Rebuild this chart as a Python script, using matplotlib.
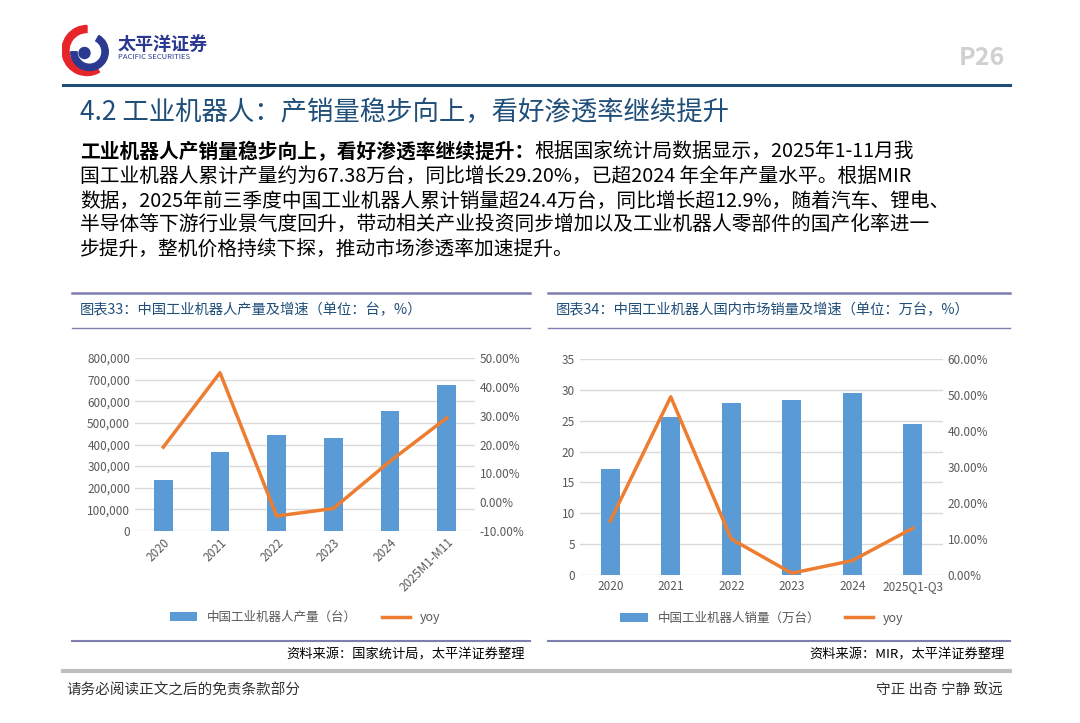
import matplotlib
matplotlib.use("Agg")
import matplotlib.pyplot as plt
from matplotlib.lines import Line2D
from matplotlib.patches import Wedge, Circle
from matplotlib.ticker import FuncFormatter, MultipleLocator

plt.rcParams['font.family'] = ['Noto Sans CJK SC', 'DejaVu Sans']

years1 = ['2020', '2021', '2022', '2023', '2024', '2025M1-M11']
prod = [237000, 366000, 443000, 430000, 556000, 674000]
yoy1 = [19.1, 44.9, -4.8, -2.2, 14.2, 29.2]

years2 = ['2020', '2021', '2022', '2023', '2024', '2025Q1-Q3']
sales = [17.1, 25.6, 27.9, 28.3, 29.5, 24.4]
yoy2 = [15.0, 49.5, 10.0, 0.5, 4.0, 13.0]

W, H = 1080, 723
fig = plt.figure(figsize=(W/100, H/100), dpi=100)

def fx(x): return x / W
def fy(y): return 1 - y / H
def hline(x0, x1, y, color, lw):
    fig.add_artist(Line2D([fx(x0), fx(x1)], [fy(y), fy(y)], color=color, lw=lw))
def txt(x, y, s, **kw):
    fig.text(fx(x), fy(y), s, **kw)

BLUE = '#5B9BD5'; ORANGE = '#ED7D31'; NAVY = '#1F4E79'; GRID = '#D9D9D9'; TICK = '#595959'

# logo
lax = fig.add_axes([fx(62), fy(88), fx(50), 75/H])
lax.set_xlim(-1, 1); lax.set_ylim(-1.3, 1.3); lax.set_aspect('equal'); lax.axis('off')
lax.add_patch(Wedge((0, 0), 1.0, 90, 300, width=0.28, color='#E8242B'))
lax.add_patch(Wedge((0.1, -0.05), 0.75, 180, 420, width=0.25, color='#2B3990'))
lax.add_patch(Circle((-0.1, -0.1), 0.22, color='#2B3990'))
txt(118, 44, '太平洋证券', fontsize=13, fontweight='bold', color='#2B3990', va='center')
txt(118, 57, 'PACIFIC SECURITIES', fontsize=5.5, color='#2B3990', va='center')
txt(1005, 58, 'P26', fontsize=18, fontweight='bold', color='#D0D0D0', ha='right', va='center')

hline(63, 1010, 85, NAVY, 2.2)
txt(80, 112, '4.2 工业机器人：产销量稳步向上，看好渗透率继续提升', fontsize=19, color=NAVY, va='center')

lines = [
    ('工业机器人产销量稳步向上，看好渗透率继续提升：', '根据国家统计局数据显示，2025年1-11月我'),
    ('', '国工业机器人累计产量约为67.38万台，同比增长29.20%，已超2024 年全年产量水平。根据MIR'),
    ('', '数据，2025年前三季度中国工业机器人累计销量超24.4万台，同比增长超12.9%，随着汽车、锂电、'),
    ('', '半导体等下游行业景气度回升，带动相关产业投资同步增加以及工业机器人零部件的国产化率进一'),
    ('', '步提升，整机价格持续下探，推动市场渗透率加速提升。'),
]
FS = 14.2
for i, (b, n) in enumerate(lines):
    y = 152 + i * 24.5
    if b:
        t = fig.text(fx(80), fy(y), b, fontsize=FS, fontweight='bold', color='black', va='center')
        fig.canvas.draw()
        bb = t.get_window_extent()
        fig.text(bb.x1 / W, fy(y), n, fontsize=FS, color='black', va='center')
    else:
        fig.text(fx(80), fy(y), n, fontsize=FS, color='black', va='center')

LINEC = '#7F7FAF'
for (x0, x1, title, src) in [(72, 530, '图表33：中国工业机器人产量及增速（单位：台，%）', '资料来源：国家统计局，太平洋证券整理'),
                             (548, 1010, '图表34：中国工业机器人国内市场销量及增速（单位：万台，%）', '资料来源：MIR，太平洋证券整理')]:
    hline(x0, x1, 293, LINEC, 1.8)
    hline(x0, x1, 328, LINEC, 1.0)
    txt(x0 + 8, 310, title, fontsize=10.3, color=NAVY, va='center')
    hline(x0, x1, 641, LINEC, 1.5)
    txt(x1 - 5, 655, src, fontsize=9.5, style='italic', color='black', ha='right', va='center')
hline(63, 1010, 671, '#BFBFBF', 3)
txt(66, 691, '请务必阅读正文之后的免责条款部分', fontsize=10.5, color='#333333', va='center')
txt(1003, 691, '守正 出奇 宁静 致远', fontsize=10.5, color='#333333', ha='right', va='center')

def style(ax, ax2):
    for a in (ax, ax2):
        for s in a.spines.values(): s.set_visible(False)
        a.tick_params(length=0, labelsize=8.5, colors=TICK)
    ax.yaxis.grid(True, color=GRID, lw=1); ax.set_axisbelow(True)

# chart 1
ax = fig.add_axes([fx(135), fy(531), fx(475-135), (531-358)/H])
x = range(len(years1))
ax.bar(x, prod, width=0.33, color=BLUE, label='中国工业机器人产量（台）')
ax.set_ylim(0, 800000); ax.yaxis.set_major_locator(MultipleLocator(100000))
ax.yaxis.set_major_formatter(FuncFormatter(lambda v, p: f'{int(v):,}'))
ax.set_xlim(-0.5, 5.5)
ax.set_xticks(list(x)); ax.set_xticklabels(years1, rotation=45, ha='right', rotation_mode='anchor')
ax2 = ax.twinx()
ax2.plot(x, yoy1, color=ORANGE, lw=2.5, label='yoy')
ax2.set_ylim(-10, 50); ax2.yaxis.set_major_locator(MultipleLocator(10))
ax2.yaxis.set_major_formatter(FuncFormatter(lambda v, p: f'{v:.2f}%'))
style(ax, ax2)
h1, l1 = ax.get_legend_handles_labels(); h2, l2 = ax2.get_legend_handles_labels()
ax.legend(h1 + h2, l1 + l2, loc='center', bbox_to_anchor=(0.5, -0.5), ncol=2, frameon=False,
          fontsize=9, labelcolor=TICK, handlelength=2.2, columnspacing=2)

# chart 2
bx = fig.add_axes([fx(580), fy(575), fx(943-580), (575-359)/H])
x = range(len(years2))
bx.bar(x, sales, width=0.32, color=BLUE, label='中国工业机器人销量（万台）')
bx.set_ylim(0, 35); bx.yaxis.set_major_locator(MultipleLocator(5))
bx.set_xlim(-0.5, 5.5)
bx.set_xticks(list(x)); bx.set_xticklabels(years2)
bx2 = bx.twinx()
bx2.plot(x, yoy2, color=ORANGE, lw=2.5, label='yoy')
bx2.set_ylim(0, 60); bx2.yaxis.set_major_locator(MultipleLocator(10))
bx2.yaxis.set_major_formatter(FuncFormatter(lambda v, p: f'{v:.2f}%'))
style(bx, bx2)
h1, l1 = bx.get_legend_handles_labels(); h2, l2 = bx2.get_legend_handles_labels()
bx.legend(h1 + h2, l1 + l2, loc='center', bbox_to_anchor=(0.5, -0.2), ncol=2, frameon=False,
          fontsize=9, labelcolor=TICK, handlelength=2.2, columnspacing=2)

fig.savefig('out.png', dpi=100)
